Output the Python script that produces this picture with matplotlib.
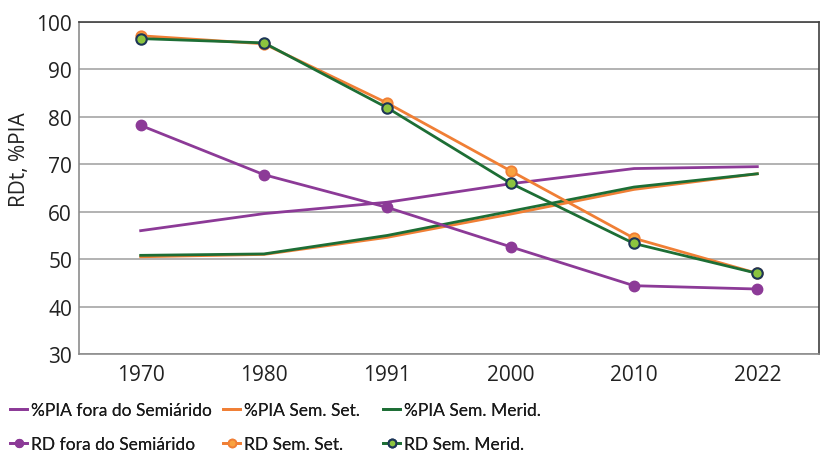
import os
import matplotlib
matplotlib.use("Agg")
import matplotlib.pyplot as plt
from matplotlib import font_manager
from matplotlib.font_manager import FontProperties

years = ["1970", "1980", "1991", "2000", "2010", "2022"]
pia_fora = [56.0, 59.6, 62.0, 65.9, 69.1, 69.5]
pia_set = [50.5, 51.0, 54.6, 59.5, 64.7, 68.0]
pia_merid = [50.8, 51.1, 55.0, 60.1, 65.2, 68.0]
rd_fora = [78.2, 67.8, 60.9, 52.6, 44.4, 43.7]
rd_set = [97.1, 95.4, 82.9, 68.6, 54.4, 47.0]
rd_merid = [96.5, 95.6, 81.9, 66.0, 53.3, 47.0]
y_ticks = [30, 40, 50, 60, 70, 80, 90, 100]

purple = "#8C3A97"
orange = "#F07F35"
green = "#1D6E35"
orange_fill = "#F9A23F"
green_fill = "#8CC43F"
navy = "#1C3557"

names = {f.name for f in font_manager.fontManager.ttflist}
main_font = "Open Sans" if "Open Sans" in names else "DejaVu Sans"
plt.rcParams["font.family"] = [main_font, "DejaVu Sans"]

fig = plt.figure(figsize=(8.22, 4.56), dpi=100)
renderer = fig.canvas.get_renderer()


def text_width(prop, s="%PIA fora do Semiárido"):
    w, h, d = renderer.get_text_width_height_descent(s, prop, ismath=False)
    return w


# Try to find a genuinely condensed static font; fall back to Lato sized to fit.
cands = ["LiberationSansNarrow-Regular.ttf", "DejaVuSansCondensed.ttf",
         "NotoSans-Condensed.ttf", "NotoSans-CondensedRegular.ttf",
         "RobotoCondensed-Regular.ttf", "Roboto_Condensed-Regular.ttf"]
leg_prop = None
files = {os.path.basename(f.fname): f.fname for f in font_manager.fontManager.ttflist}
for c in cands:
    if c in files:
        p = FontProperties(fname=files[c], size=14.5)
        if text_width(p) < 175:
            leg_prop = p
            break
if leg_prop is None:
    fam = "Lato" if "Lato" in names else main_font
    size = 14.0
    while size > 9:
        p = FontProperties(family=fam, size=size)
        if text_width(p) <= 183:
            break
        size -= 0.25
    leg_prop = FontProperties(family=fam, size=size)

ax = fig.add_axes([79 / 822, 1 - 355 / 456, 740 / 822, 332 / 456])

x = list(range(len(years)))
lw = 2.0
ms = 7.5
h1, = ax.plot(x, pia_fora, color=purple, lw=lw, label="%PIA fora do Semiárido", zorder=3)
h2, = ax.plot(x, pia_set, color=orange, lw=lw, label="%PIA Sem. Set.", zorder=3)
h3, = ax.plot(x, pia_merid, color=green, lw=lw, label="%PIA Sem. Merid.", zorder=3)
h4, = ax.plot(x, rd_fora, color=purple, lw=lw, marker="o", ms=ms, mfc=purple, mec=purple,
              label="RD fora do Semiárido", zorder=4)
h5, = ax.plot(x, rd_set, color=orange, lw=lw, marker="o", ms=ms, mfc=orange_fill, mec=orange,
              mew=1.3, label="RD Sem. Set.", zorder=4)
h6, = ax.plot(x, rd_merid, color=green, lw=lw, marker="o", ms=ms, mfc=green_fill, mec=navy,
              mew=1.5, label="RD Sem. Merid.", zorder=5)

ax.set_xlim(-0.5, len(years) - 0.5)
ax.set_ylim(30, 100)
ax.set_xticks(x)
ax.set_xticklabels(years)
ax.set_yticks(y_ticks)
ax.tick_params(axis="both", length=0, labelsize=15, colors="#222222")
ax.tick_params(axis="x", pad=7)
ax.tick_params(axis="y", pad=5)
ax.grid(axis="y", color="#A6A6A6", lw=1.2, zorder=0)
ax.set_axisbelow(True)
for side in ["left", "bottom"]:
    ax.spines[side].set_color("#8C8C8C")
    ax.spines[side].set_linewidth(1.2)
for side in ["top", "right"]:
    ax.spines[side].set_color("#404040")
    ax.spines[side].set_linewidth(1.2)

fig.text(20 / 822, 1 - 160 / 456, "RDt, %PIA", rotation=90, ha="center", va="center",
         fontsize=15, color="#222222")

# legend: 3 columns x 2 rows placed at the reference positions
col_x = [10, 223, 383]
row_y = [411, 445]
entries = [(h1, 0, 0), (h4, 0, 1), (h2, 1, 0), (h5, 1, 1), (h3, 2, 0), (h6, 2, 1)]
for h, c, r in entries:
    lg = fig.legend(handles=[h], loc="center left",
                    bbox_to_anchor=(col_x[c] / 822, 1 - row_y[r] / 456), frameon=False,
                    prop=leg_prop, handlelength=1.0, handletextpad=0.2,
                    borderaxespad=0, borderpad=0, markerscale=0.75)
    for t in lg.get_texts():
        t.set_color("#1a1a1a")
    fig.add_artist(lg)

fig.savefig("out.png", dpi=100)
